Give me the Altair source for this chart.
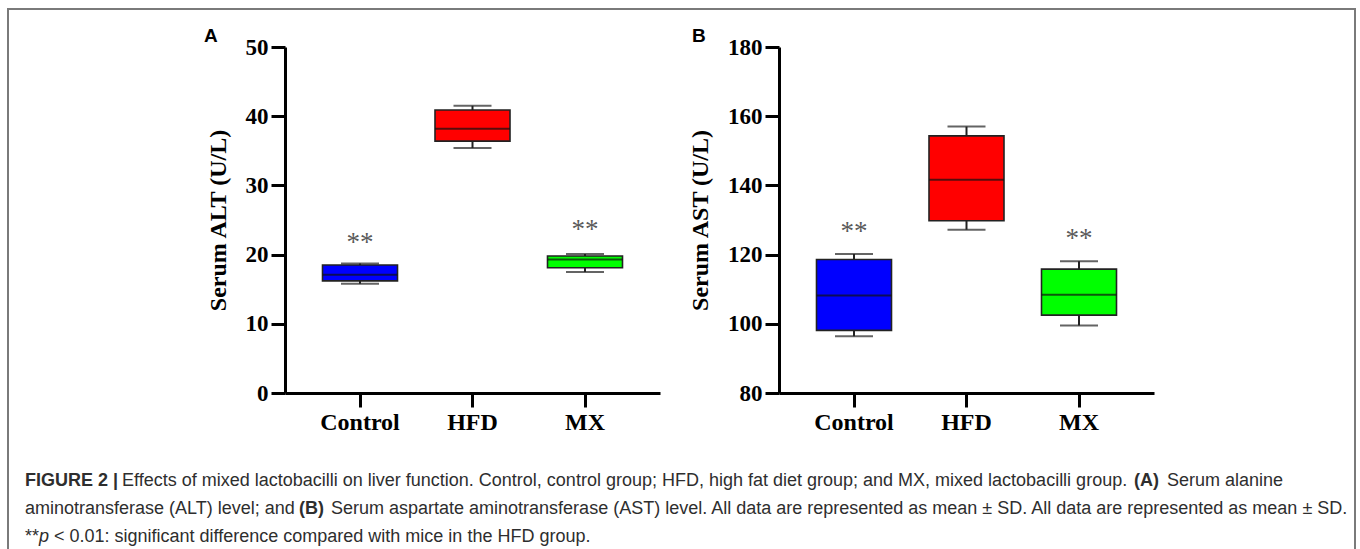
import altair as alt
import pandas as pd

# Groups shared by both panels
groups = ["Control", "HFD", "MX"]
box_colors = ["#0000FF", "#FF0000", "#00FF00"]

# Panel A: serum ALT (U/L) box summaries
alt_min = [15.8, 35.4, 17.5]
alt_q1 = [16.2, 36.4, 18.1]
alt_median = [17.1, 38.2, 19.3]
alt_q3 = [18.5, 40.9, 19.8]
alt_max = [18.7, 41.5, 20.1]
alt_star_y = [22.5, None, 24.4]
alt_ticks = [0, 10, 20, 30, 40, 50]

# Panel B: serum AST (U/L) box summaries
ast_min = [96.4, 127.2, 99.5]
ast_q1 = [98.1, 129.8, 102.5]
ast_median = [108.2, 141.6, 108.4]
ast_q3 = [118.6, 154.3, 115.8]
ast_max = [120.2, 157.0, 118.1]
ast_star_y = [128.2, None, 126.3]
ast_ticks = [80, 100, 120, 140, 160, 180]

SERIF = "Liberation Serif"
SANS = "Liberation Sans"
PANEL_W = 375
PANEL_H = 346
BOX_W = 75
CAP_W = 38


def make_frame(mn, q1, med, q3, mx, star):
    return pd.DataFrame({
        "group": groups, "color": box_colors,
        "min": mn, "q1": q1, "median": med, "q3": q3, "max": mx,
        "star": star,
    })


def panel(df, ytitle, ticks, letter, letter_dx):
    x = alt.X("group:N", sort=groups,
              scale=alt.Scale(type="band", paddingInner=1 / 3, paddingOuter=1 / 3),
              axis=alt.Axis(title=None, labelAngle=0, labelFont=SERIF,
                            labelFontWeight="bold", labelFontSize=24,
                            labelColor="black", labelPadding=3,
                            domainColor="black", domainWidth=3,
                            tickColor="black", tickWidth=3, tickSize=14))
    yscale = alt.Scale(domain=[ticks[0], ticks[-1]], nice=False, zero=False)
    yaxis = alt.Axis(title=ytitle, values=ticks, grid=False, labelFont=SERIF,
                     labelFontWeight="bold", labelFontSize=23, labelColor="black",
                     labelPadding=3, titleFont=SERIF, titleFontWeight="bold",
                     titleFontSize=24, titleColor="black", titlePadding=15,
                     domainColor="black", domainWidth=3, tickColor="black",
                     tickWidth=3, tickSize=14)
    base = alt.Chart(df).encode(x=x)
    whisker = base.mark_rule(color="#222222", strokeWidth=2).encode(
        y=alt.Y("min:Q", scale=yscale, axis=yaxis), y2="max:Q")
    box = base.mark_bar(stroke="#222222", strokeWidth=1.6).encode(
        y=alt.Y("q1:Q", scale=yscale), y2="q3:Q",
        color=alt.Color("color:N", scale=None))
    median = base.mark_tick(color="#111111", thickness=2, size=BOX_W).encode(
        y=alt.Y("median:Q", scale=yscale))
    cap_lo = base.mark_tick(color="#222222", thickness=2, size=CAP_W).encode(
        y=alt.Y("min:Q", scale=yscale))
    cap_hi = base.mark_tick(color="#222222", thickness=2, size=CAP_W).encode(
        y=alt.Y("max:Q", scale=yscale))
    stars = base.transform_filter("isValid(datum.star)").mark_text(
        text="**", font=SERIF, fontSize=27, color="#5a5a5a", baseline="middle", dy=6
    ).encode(y=alt.Y("star:Q", scale=yscale))
    tag = alt.Chart(df).transform_filter("datum.group == 'Control'").mark_text(
        text=letter, font=SANS, fontWeight="bold", fontSize=19, color="black",
        align="left", baseline="middle"
    ).encode(x=alt.value(letter_dx), y=alt.value(-11))
    return [whisker, box, median, cap_lo, cap_hi, stars, tag]


df_a = make_frame(alt_min, alt_q1, alt_median, alt_q3, alt_max, alt_star_y)
df_b = make_frame(ast_min, ast_q1, ast_median, ast_q3, ast_max, ast_star_y)

# Caption pieces: (text, x offset from panel A origin, line, weight, style)
caption = pd.DataFrame([
    ("FIGURE 2 |", -260, 0, "bold", "normal"),
    ("Effects of mixed lactobacilli on liver function. Control, control group; HFD, high fat diet group; and MX, mixed lactobacilli group.", -163, 0, "normal", "normal"),
    ("(A)", 849, 0, "bold", "normal"),
    ("Serum alanine", 882, 0, "normal", "normal"),
    ("aminotransferase (ALT) level; and", -260, 1, "normal", "normal"),
    ("(B)", 14, 1, "bold", "normal"),
    ("Serum aspartate aminotransferase (AST) level. All data are represented as mean \u00b1 SD. All data are represented as mean \u00b1 SD.", 46, 1, "normal", "normal"),
    ("**", -260, 2, "normal", "normal"),
    ("p", -246, 2, "normal", "italic"),
    ("< 0.01: significant difference compared with mice in the HFD group.", -231, 2, "normal", "normal"),
], columns=["text", "px", "line", "weight", "style"])
caption["py"] = 434 + caption["line"] * 28

cap_layers = []
for (w, s), sub in caption.groupby(["weight", "style"]):
    cap_layers.append(
        alt.Chart(sub).mark_text(font=SANS, fontSize=18, fontWeight=w, fontStyle=s,
                                 color="#2e2e2e", align="left", baseline="middle")
        .encode(x=alt.X("px:Q", scale=None), y=alt.Y("py:Q", scale=None), text="text:N")
    )

frame = alt.Chart(df_a).transform_filter("datum.group == 'Control'").mark_rect(
    fill="transparent", stroke="#7a7a7a", strokeWidth=2
).encode(x=alt.value(-277), x2=alt.value(1070), y=alt.value(-38), y2=alt.value(520))

panel_a = alt.layer(*panel(df_a, "Serum ALT (U/L)", alt_ticks, "A", -81), *cap_layers, frame).properties(
    width=PANEL_W, height=PANEL_H)
panel_b = alt.layer(*panel(df_b, "Serum AST (U/L)", ast_ticks, "B", -87)).properties(
    width=PANEL_W, height=PANEL_H)

chart = alt.hconcat(panel_a, panel_b, spacing=119, bounds="flush").properties(
    padding={"left": 285, "top": 47, "right": 1075, "bottom": 502},
    autosize=alt.AutoSizeParams(type="none"),
    background="white",
).configure_view(strokeWidth=0)

chart.save("out.html", embed_options={"renderer": "svg", "actions": False})
